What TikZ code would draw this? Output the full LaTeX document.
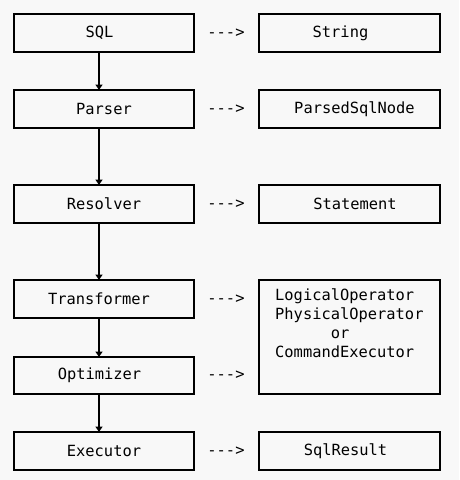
\documentclass[tikz,border=0pt]{standalone}
\usepackage{fontspec}
\setmonofont{DejaVu Sans Mono}
\usetikzlibrary{arrows.meta}
\definecolor{bg}{HTML}{F8F8F8}
\tikzset{
  box/.style={draw=black, line width=1.4pt, inner sep=0pt},
  lbl/.style={font=\ttfamily\fontsize{15.4}{19}\selectfont, inner sep=0pt, text=black},
  flow/.style={draw=black, line width=1.4pt, -{Triangle[width=7pt,length=5.5pt]}},
}
\begin{document}
\begin{tikzpicture}[x=1pt,y=-1pt]
\fill[bg] (0,0) rectangle (459,480);
\useasboundingbox (0,0) rectangle (459,480);
% left boxes
\draw[box] (14,14) rectangle (194,52);
\draw[box] (14,90) rectangle (194,128);
\draw[box] (14,185) rectangle (194,223);
\draw[box] (14,280) rectangle (194,318);
\draw[box] (14,357) rectangle (194,394);
\draw[box] (14,432) rectangle (194,470);
% right boxes
\draw[box] (259,14) rectangle (440,52);
\draw[box] (259,90) rectangle (440,128);
\draw[box] (259,185) rectangle (440,223);
\draw[box] (259,280) rectangle (440,394);
\draw[box] (259,432) rectangle (440,470);
% left labels
\node[lbl] (sql) at (99.5,33) {SQL};
\node[lbl] (parser) at (104,109) {Parser};
\node[lbl] (resolver) at (104,204) {Resolver};
\node[lbl] (transformer) at (99,299) {Transformer};
\node[lbl] (optimizer) at (99.5,375.5) {Optimizer};
\node[lbl] (executor) at (104,451) {Executor};
% anchors for flow
\coordinate (b1) at (99,52);
\coordinate (t2) at (99,90);
\coordinate (b2) at (99,128);
\coordinate (t3) at (99,185);
\coordinate (b3) at (99,223);
\coordinate (t4) at (99,280);
\coordinate (b4) at (99,318);
\coordinate (t5) at (99,357);
\coordinate (b5) at (99,394);
\coordinate (t6) at (99,432);
\draw[flow] (b1) -- (t2);
\draw[flow] (b2) -- (t3);
\draw[flow] (b3) -- (t4);
\draw[flow] (b4) -- (t5);
\draw[flow] (b5) -- (t6);
% dashed arrows as text
\node[lbl] (a1) at (226,33) {-{}-{}->};
\node[lbl] (a2) at (226,109) {-{}-{}->};
\node[lbl] (a3) at (226,204) {-{}-{}->};
\node[lbl] (a4) at (226,299) {-{}-{}->};
\node[lbl] (a5) at (226,375.5) {-{}-{}->};
\node[lbl] (a6) at (226,451) {-{}-{}->};
% right labels
\node[lbl] (string) at (340.5,33) {String};
\node[lbl] (parsed) at (354.5,109) {ParsedSqlNode};
\node[lbl] (statement) at (355,204) {Statement};
\node[lbl, anchor=north west, align=left] (ops) at (275,289) {LogicalOperator\\PhysicalOperator\\\hphantom{123456}or\\CommandExecutor};
\node[lbl] (result) at (345.5,451) {SqlResult};
\end{tikzpicture}
\end{document}
